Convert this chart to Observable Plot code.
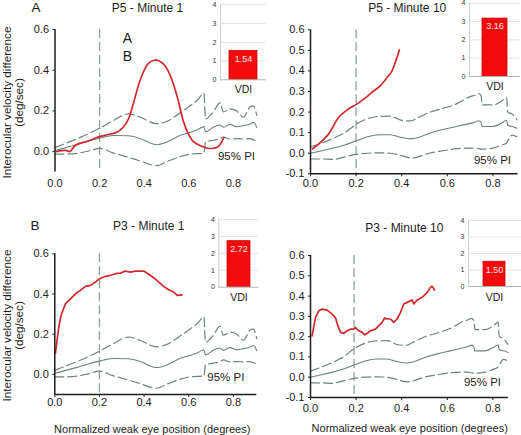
<!DOCTYPE html>
<html><head><meta charset="utf-8">
<script src="https://cdn.jsdelivr.net/npm/d3@7"></script>
<script src="https://cdn.jsdelivr.net/npm/@observablehq/plot@0.6"></script>
<style>
body{margin:0;background:#fff;}
#root{position:relative;width:521px;height:435px;overflow:hidden;background:#fff;}
#root svg{position:absolute;overflow:visible;}
</style></head><body><div id="root"></div>
<script>
// ---------- data ----------
const panelTitles = ["P5 - Minute 1", "P5 - Minute 10", "P3 - Minute 1", "P3 - Minute 10"];
const panelLetters = ["A", "B"];
const strayLabels = ["A", "B"];
const vdiValues = [1.54, 3.16, 2.72, 1.50];
const vdiCategory = ["VDI"];
const vdiTicks = [0, 1, 2, 3, 4];
const xTicks = [0, 0.2, 0.4, 0.6, 0.8];
const yTicksFine = [-0.1, 0, 0.1, 0.2, 0.3, 0.4, 0.5, 0.6];
const yTicksCoarse = [0, 0.2, 0.4, 0.6];
const vlineX = [0.2, 0.2, 0.2, 0.191];
const piLabel = "95% PI";
const yTitle = "Interocular velocity difference\n(deg/sec)";
const xTitle = "Normalized weak eye position (degrees)";

// 95% prediction interval, minute 1
const xPI1   = [0, 0.05, 0.1, 0.15, 0.2, 0.26, 0.33, 0.38, 0.456, 0.5, 0.56, 0.6, 0.64, 0.668, 0.675, 0.71, 0.74, 0.755, 0.785, 0.815, 0.845, 0.875, 0.89, 0.905];
const hiPI1  = [0.02, 0.042, 0.064, 0.088, 0.115, 0.152, 0.186, 0.17, 0.137, 0.148, 0.19, 0.221, 0.255, 0.287, 0.16, 0.195, 0.24, 0.195, 0.21, 0.2, 0.17, 0.22, 0.225, 0.178];
const medPI1 = [0.005, 0.02, 0.035, 0.052, 0.066, 0.079, 0.078, 0.065, 0.034, 0.046, 0.079, 0.093, 0.108, 0.123, 0.097, 0.12, 0.131, 0.12, 0.133, 0.122, 0.128, 0.136, 0.144, 0.118];
const loPI1  = [-0.012, -0.012, -0.008, 0.003, 0.016, -0.006, -0.028, -0.045, -0.069, -0.05, -0.025, -0.013, -0.01, -0.008, 0.048, 0.056, 0.064, 0.072, 0.062, 0.064, 0.062, 0.064, 0.058, 0.052];

// 95% prediction interval, minute 10 (panel P5) and its x positions as drawn in panel P3
const xPI10  = [0, 0.05, 0.1, 0.15, 0.2, 0.25, 0.3, 0.35, 0.4, 0.44, 0.47, 0.52, 0.58, 0.64, 0.7, 0.72, 0.738, 0.748, 0.753, 0.8, 0.84, 0.86, 0.865, 0.885, 0.905];
const xPI10b = [0, 0.048, 0.096, 0.144, 0.191, 0.239, 0.287, 0.335, 0.383, 0.421, 0.45, 0.498, 0.555, 0.612, 0.67, 0.689, 0.706, 0.716, 0.721, 0.766, 0.804, 0.823, 0.828, 0.847, 0.866];
const hiPI10  = [0.03, 0.05, 0.072, 0.1, 0.14, 0.168, 0.179, 0.18, 0.16, 0.157, 0.172, 0.198, 0.218, 0.24, 0.275, 0.282, 0.29, 0.28, 0.235, 0.235, 0.255, 0.272, 0.2, 0.19, 0.162];
const medPI10 = [0.0, 0.012, 0.025, 0.04, 0.06, 0.08, 0.09, 0.09, 0.076, 0.07, 0.075, 0.096, 0.115, 0.13, 0.145, 0.15, 0.158, 0.15, 0.13, 0.13, 0.148, 0.16, 0.135, 0.13, 0.122];
const loPI10  = [-0.028, -0.028, -0.03, -0.018, -0.006, 0.0, 0.002, 0.0, -0.012, -0.023, -0.018, 0.0, 0.012, 0.022, 0.025, 0.025, 0.022, 0.02, 0.02, 0.025, 0.04, 0.05, 0.06, 0.088, 0.08];

// subject curves
const xRedA = [0.008, 0.03, 0.05, 0.067, 0.09, 0.112, 0.142, 0.172, 0.2, 0.239, 0.277, 0.306, 0.329, 0.351, 0.374, 0.396, 0.419, 0.448, 0.463, 0.493, 0.523, 0.553, 0.575, 0.598, 0.62, 0.65, 0.68, 0.71, 0.732, 0.758];
const yRedA = [0.0, 0.005, 0.006, 0.0, 0.03, 0.041, 0.05, 0.062, 0.074, 0.084, 0.095, 0.12, 0.16, 0.234, 0.325, 0.39, 0.434, 0.45, 0.448, 0.423, 0.357, 0.25, 0.152, 0.087, 0.05, 0.03, 0.018, 0.016, 0.025, 0.07];
const xRedB = [0.009, 0.044, 0.08, 0.124, 0.168, 0.204, 0.241, 0.27, 0.307, 0.343, 0.355, 0.372, 0.39];
const yRedB = [0.021, 0.053, 0.094, 0.175, 0.216, 0.24, 0.269, 0.297, 0.329, 0.378, 0.394, 0.442, 0.502];
const xRedC = [0.003, 0.01, 0.018, 0.028, 0.048, 0.07, 0.093, 0.115, 0.137, 0.16, 0.182, 0.2, 0.227, 0.25, 0.272, 0.294, 0.316, 0.339, 0.361, 0.384, 0.399, 0.421, 0.443, 0.466, 0.488, 0.51, 0.533, 0.548, 0.57];
const yRedC = [0.106, 0.169, 0.235, 0.294, 0.352, 0.376, 0.401, 0.418, 0.438, 0.443, 0.459, 0.476, 0.488, 0.493, 0.501, 0.504, 0.514, 0.509, 0.514, 0.514, 0.514, 0.498, 0.481, 0.459, 0.438, 0.421, 0.41, 0.393, 0.396];
const xRedD = [0.007, 0.022, 0.037, 0.051, 0.073, 0.095, 0.11, 0.12, 0.132, 0.146, 0.161, 0.175, 0.19, 0.197, 0.212, 0.227, 0.237, 0.249, 0.263, 0.285, 0.3, 0.314, 0.325, 0.336, 0.351, 0.365, 0.38, 0.395, 0.409, 0.424, 0.446, 0.453, 0.468, 0.49, 0.512, 0.526, 0.534, 0.544];
const yRedD = [0.204, 0.295, 0.328, 0.336, 0.331, 0.311, 0.292, 0.254, 0.221, 0.216, 0.229, 0.237, 0.237, 0.245, 0.229, 0.221, 0.209, 0.216, 0.229, 0.237, 0.254, 0.27, 0.292, 0.287, 0.287, 0.27, 0.287, 0.32, 0.361, 0.369, 0.381, 0.361, 0.381, 0.394, 0.418, 0.443, 0.448, 0.43];

// ---------- helpers ----------
const RED = "#d2282b", PI = "#6e8080", VL = "#8fa0a0", INK = "#1c1c1c";
const FONT = "'Liberation Sans', Arial, Helvetica, sans-serif";
const root = document.getElementById("root");
const pts = (xs, ys) => xs.map((x, i) => ({x, y: ys[i]}));
const band = (xs, hi, med, lo) => xs.map((x, i) => ({x, hi: hi[i], med: med[i], lo: lo[i]}));
const fmt1 = d => d.toFixed(1);

function place(svg, left, top) {
  svg.style.position = "absolute";
  svg.style.left = left + "px";
  svg.style.top = top + "px";
  root.appendChild(svg);
}

function mainPanel(c) {
  const at = (txt, tx, ty, o = {}) => Plot.text([txt], {text: d => d, frameAnchor: "top-left", textAnchor: "middle", lineAnchor: "middle", dx: tx - c.mL, dy: ty - c.mT, fill: INK, ...o});
  const dashed = {stroke: PI, strokeWidth: 1.2, strokeDasharray: "9,4", curve: "monotone-x"};
  const marks = [
    Plot.ruleX([c.vline], {stroke: VL, strokeWidth: 1.3, strokeDasharray: "9,4"}),
    Plot.line(c.pi, {x: "x", y: "hi", ...dashed}),
    Plot.line(c.pi, {x: "x", y: "med", stroke: PI, strokeWidth: 1.1, curve: "monotone-x"}),
    Plot.line(c.pi, {x: "x", y: "lo", ...dashed}),
    Plot.line(c.red, {x: "x", y: "y", stroke: RED, strokeWidth: 1.7, curve: c.redCurve}),
    Plot.ruleX([0], {stroke: INK, strokeWidth: 1.5})
  ];
  if (c.xLine) marks.push(Plot.ruleY([-0.1], {stroke: INK, strokeWidth: 1.5}));
  marks.push(at(c.title, c.titlePos[0], c.titlePos[1], {fontSize: 12}));
  if (c.letter) marks.push(at(c.letter, c.letterPos[0], c.letterPos[1], {fontSize: 13.5}));
  marks.push(at(piLabel, c.piPos[0], c.piPos[1], {fontSize: 11.5}));
  if (c.yTitlePos) marks.push(at(yTitle, c.yTitlePos[0], c.yTitlePos[1], {rotate: -90, fontSize: 11.7, lineHeight: 0.98}));
  if (c.xTitlePos) marks.push(at(xTitle, c.xTitlePos[0], c.xTitlePos[1], {fontSize: 11}));
  if (c.stray) c.stray.forEach((s, i) => marks.push(at(s, c.strayPos[i][0], c.strayPos[i][1], {fontSize: 14})));
  const svg = Plot.plot({
    width: c.width, height: c.height,
    marginLeft: c.mL, marginRight: c.mR, marginTop: c.mT, marginBottom: c.mB,
    x: {domain: [0, c.xmax], ticks: xTicks, tickSize: c.xTickSize, tickPadding: c.xPad, tickFormat: fmt1, label: null},
    y: {domain: [-0.1, 0.6], ticks: c.yticks, tickSize: 2, tickPadding: 4, tickFormat: fmt1, label: null},
    style: {fontFamily: FONT, fontSize: "11px", color: INK, background: "transparent", overflow: "visible"},
    marks
  });
  place(svg, c.left, c.top);
}

function inset(c) {
  const svg = Plot.plot({
    width: c.width, height: c.height,
    marginLeft: c.mL, marginRight: c.mR, marginTop: c.mT, marginBottom: c.mB,
    x: {domain: vdiCategory, padding: c.pad, label: null, axis: null},
    y: {domain: [0, 4], label: null, axis: null},
    style: {fontFamily: FONT, fontSize: "7px", color: "#333", background: "transparent", overflow: "visible"},
    marks: [
      Plot.gridY(vdiTicks.slice(1), {stroke: "#e4e4e4", strokeOpacity: 1}),
      Plot.barY([c.v], {x: () => vdiCategory[0], y: d => d, fill: "#f40c0c", stroke: "#c80808", strokeWidth: 0.8}),
      Plot.ruleY([0], {stroke: "#b5b5b5"}),
      Plot.frame({anchor: "left", stroke: "#cfcfcf"}),
      Plot.axisY({ticks: vdiTicks, tickSize: 0, tickPadding: 4, fontSize: 7, tickFormat: d => String(d)}),
      Plot.axisX({tickSize: 0, tickPadding: c.xPad, fontSize: 10.5, fill: INK}),
      Plot.text([c.v], {x: () => vdiCategory[0], y: d => d, text: d => d.toFixed(2), dy: 8, fill: "#ffe2e2", fontSize: 9})
    ]
  });
  place(svg, c.left, c.top);
}

// ---------- panels ----------
mainPanel({left: 0, top: 0, width: 262, height: 195, mL: 54.5, mR: 5.7, mT: 29, mB: 23.5, xmax: 0.905,
  yticks: yTicksCoarse, xTickSize: 0, xPad: 7.5, xLine: false,
  vline: vlineX[0], pi: band(xPI1, hiPI1, medPI1, loPI1), red: pts(xRedA, yRedA), redCurve: "catmull-rom",
  title: panelTitles[0], titlePos: [147, 7.5], letter: panelLetters[0], letterPos: [35.5, 7.5],
  piPos: [236, 156], yTitlePos: [13, 102], stray: strayLabels, strayPos: [[127, 37.7], [127, 55.8]]});

mainPanel({left: 260, top: 0, width: 261, height: 195, mL: 50, mR: 3.5, mT: 29.3, mB: 21.7, xmax: 0.91,
  yticks: yTicksFine, xTickSize: 3, xPad: 2.4, xLine: true,
  vline: vlineX[1], pi: band(xPI10, hiPI10, medPI10, loPI10), red: pts(xRedB, yRedB), redCurve: "catmull-rom",
  title: panelTitles[1], titlePos: [146.7, 7.5], piPos: [232, 160]});

mainPanel({left: 0, top: 215, width: 262, height: 220, mL: 54.3, mR: 5.7, mT: 38.3, mB: 41, xmax: 0.905,
  yticks: yTicksCoarse, xTickSize: 3, xPad: 1, xLine: true,
  vline: vlineX[2], pi: band(xPI1, hiPI1, medPI1, loPI1), red: pts(xRedC, yRedC), redCurve: "linear",
  title: panelTitles[2], titlePos: [148.3, 10.8], letter: panelLetters[1], letterPos: [34.5, 10],
  piPos: [225.3, 161.7], yTitlePos: [13, 110], xTitlePos: [151.7, 213.5]});

mainPanel({left: 260, top: 215, width: 261, height: 220, mL: 50, mR: 13.1, mT: 40, mB: 38, xmax: 0.868,
  yticks: yTicksFine, xTickSize: 3, xPad: 4, xLine: true,
  vline: vlineX[3], pi: band(xPI10b, hiPI10, medPI10, loPI10), red: pts(xRedD, yRedD), redCurve: "linear",
  title: panelTitles[3], titlePos: [143.8, 12.8], piPos: [222, 166.5], xTitlePos: [149.2, 213]});

// ---------- VDI insets ----------
inset({left: 195, top: 0, width: 72, height: 97, mL: 25, mR: 1, mT: 4.3, mB: 17.7, pad: 0.243, xPad: 5.9, v: vdiValues[0]});
inset({left: 445, top: 0, width: 76, height: 95, mL: 24, mR: 1, mT: 2.7, mB: 19, pad: 0.342, xPad: 6.2, v: vdiValues[1]});
inset({left: 195, top: 210, width: 66, height: 92, mL: 23.3, mR: 2.6, mT: 9, mB: 15.3, pad: 0.265, xPad: 6.2, v: vdiValues[2]});
inset({left: 444, top: 210, width: 77, height: 92, mL: 24, mR: 0, mT: 10, mB: 16, pad: 0.395, xPad: 7.2, v: vdiValues[3]});
</script></body></html>
